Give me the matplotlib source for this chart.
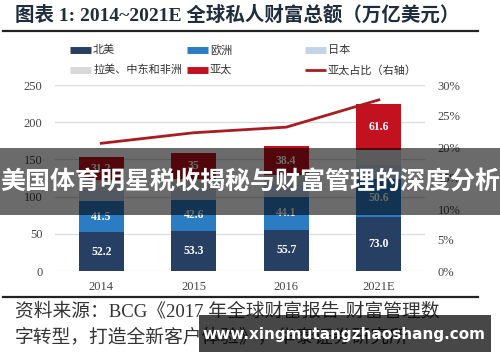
import numpy as np
import matplotlib.pyplot as plt
from matplotlib.lines import Line2D
from matplotlib.patches import Rectangle

# data (万亿美元)
years = ["2014", "2015", "2016", "2021E"]
north_america = [52.2, 53.3, 55.7, 73.0]
europe = [41.5, 42.6, 44.1, 50.6]
japan = [15.0, 14.6, 15.4, 18.6]
latam_mea = [13.0, 13.5, 14.1, 20.4]
asia_pacific = [31.2, 35, 38.4, 61.6]
apac_share = [20.6, 22.3, 23.2, 27.6]  # %, right axis

series_names = ["北美", "欧洲", "日本", "拉美、中东和非洲", "亚太"]
series_colors = ["#263f63", "#2c7cc3", "#c3d3ea", "#d9d9d9", "#c3121f"]
line_name = "亚太占比（右轴）"
line_color = "#a81c22"

title = "图表 1: 2014~2021E 全球私人财富总额（万亿美元）"
source_1 = "资料来源：BCG《2017 年全球财富报告-财富管理数"
source_2 = "字转型，打造全新客户体验》，华泰证券研究所"
banner = "美国体育明星税收揭秘与财富管理的深度分析"
site = "www.xingmutangzhaoshang.com"

serif_cjk = ["Liberation Serif", "Noto Sans CJK SC"]
cjk = ["Noto Sans CJK SC", "DejaVu Sans"]

W, H = 500, 362
fig = plt.figure(figsize=(W / 100, H / 100), dpi=100)
fig.patch.set_facecolor("white")

def fx(px):
    return px / W

def fy(py):
    return 1 - py / H

ax = fig.add_axes([fx(55), fy(271), fx(425) - fx(55), fy(85) - fy(271)])
x = np.arange(len(years))
width = 0.49

stack = [north_america, europe, japan, latam_mea, asia_pacific]
bottom = np.zeros(len(years))
conts = []
for vals, c in zip(stack, series_colors):
    bc = ax.bar(x, vals, width, bottom=bottom, color=c, zorder=2)
    conts.append(bc)
    bottom += np.array(vals)

lab_kw = dict(label_type="center", color="white", fontsize=8.5,
              fontweight="bold", family="Liberation Serif")
ax.bar_label(conts[0], labels=[f"{v:.1f}" for v in north_america], **lab_kw)
ax.bar_label(conts[1], labels=[f"{v:.1f}" for v in europe], **lab_kw)
ax.bar_label(conts[4], labels=[f"{v:g}" for v in asia_pacific], **lab_kw)

ax.set_xlim(-0.5, len(years) - 0.5)
ax.set_ylim(0, 250)
ax.set_yticks(np.arange(0, 251, 50))
ax.set_xticks(x)
ax.set_xticklabels(years)
ax.grid(axis="y", color="#dcdcdc", lw=0.9, zorder=0)
ax.set_axisbelow(True)
for s in ax.spines.values():
    s.set_visible(False)
ax.tick_params(length=0, labelsize=9, labelcolor="#444444")
ax.tick_params(axis="y", pad=9)
ax.tick_params(axis="x", pad=7)
for t in ax.get_xticklabels() + ax.get_yticklabels():
    t.set_family("Liberation Serif")

ax2 = ax.twinx()
ax2.plot(x, apac_share, color=line_color, lw=2, zorder=5)
ax2.set_ylim(0, 30)
ax2.set_yticks(np.arange(0, 31, 5))
ax2.set_yticklabels([f"{v}%" for v in range(0, 31, 5)])
for s in ax2.spines.values():
    s.set_visible(False)
ax2.tick_params(length=0, labelsize=9, labelcolor="#444444", pad=9)
for t in ax2.get_yticklabels():
    t.set_family("Liberation Serif")

# legend, drawn by hand
legend_items = [
    (70, 50, series_colors[0], 5, series_names[0]),
    (187, 50, series_colors[1], 5, series_names[1]),
    (305, 50, series_colors[2], 5, series_names[2]),
    (70, 70, series_colors[3], 5, series_names[3]),
    (187, 70, series_colors[4], 5, series_names[4]),
    (305, 70, line_color, 2, line_name),
]
for px, py, c, lw, name in legend_items:
    fig.add_artist(Line2D([fx(px), fx(px + 21)], [fy(py), fy(py)], color=c,
                          lw=lw, solid_capstyle="butt"))
    fig.text(fx(px + 23), fy(py), name, family=cjk, fontsize=8,
             color="#333333", va="center")

# title and rules
fig.text(fx(15), fy(15), title, family=serif_cjk, fontsize=14,
         fontweight="bold", color="#1f2d3d", va="center")
fig.add_artist(Line2D([fx(3), fx(478)], [fy(31), fy(31)], color="#222222", lw=1.6))
fig.add_artist(Line2D([fx(3), fx(478)], [fy(297), fy(297)], color="#222222", lw=1.6))

fig.text(fx(15), fy(311), source_1, family=serif_cjk, fontsize=13.5,
         color="#333333", va="center")
fig.text(fx(15), fy(337), source_2, family=serif_cjk, fontsize=13.5,
         color="#333333", va="center")

# overlay banners
fig.add_artist(Rectangle((0, fy(215)), 1, fy(148) - fy(215), transform=fig.transFigure,
                         facecolor="black", alpha=0.58, lw=0, zorder=10))
fig.text(0.5, fy(182), banner, family=cjk, fontsize=18, fontweight="bold",
         color="white", ha="center", va="center", zorder=11)

fig.add_artist(Rectangle((fx(199), fy(352)), fx(491) - fx(199), fy(315) - fy(352),
                         transform=fig.transFigure, facecolor="black", alpha=0.72,
                         lw=0, zorder=10))
fig.text(fx(344), fy(334), site, family="DejaVu Sans", fontsize=11,
         fontweight="bold", color="white", ha="center", va="center", zorder=11)

fig.savefig("out.png", dpi=100)
